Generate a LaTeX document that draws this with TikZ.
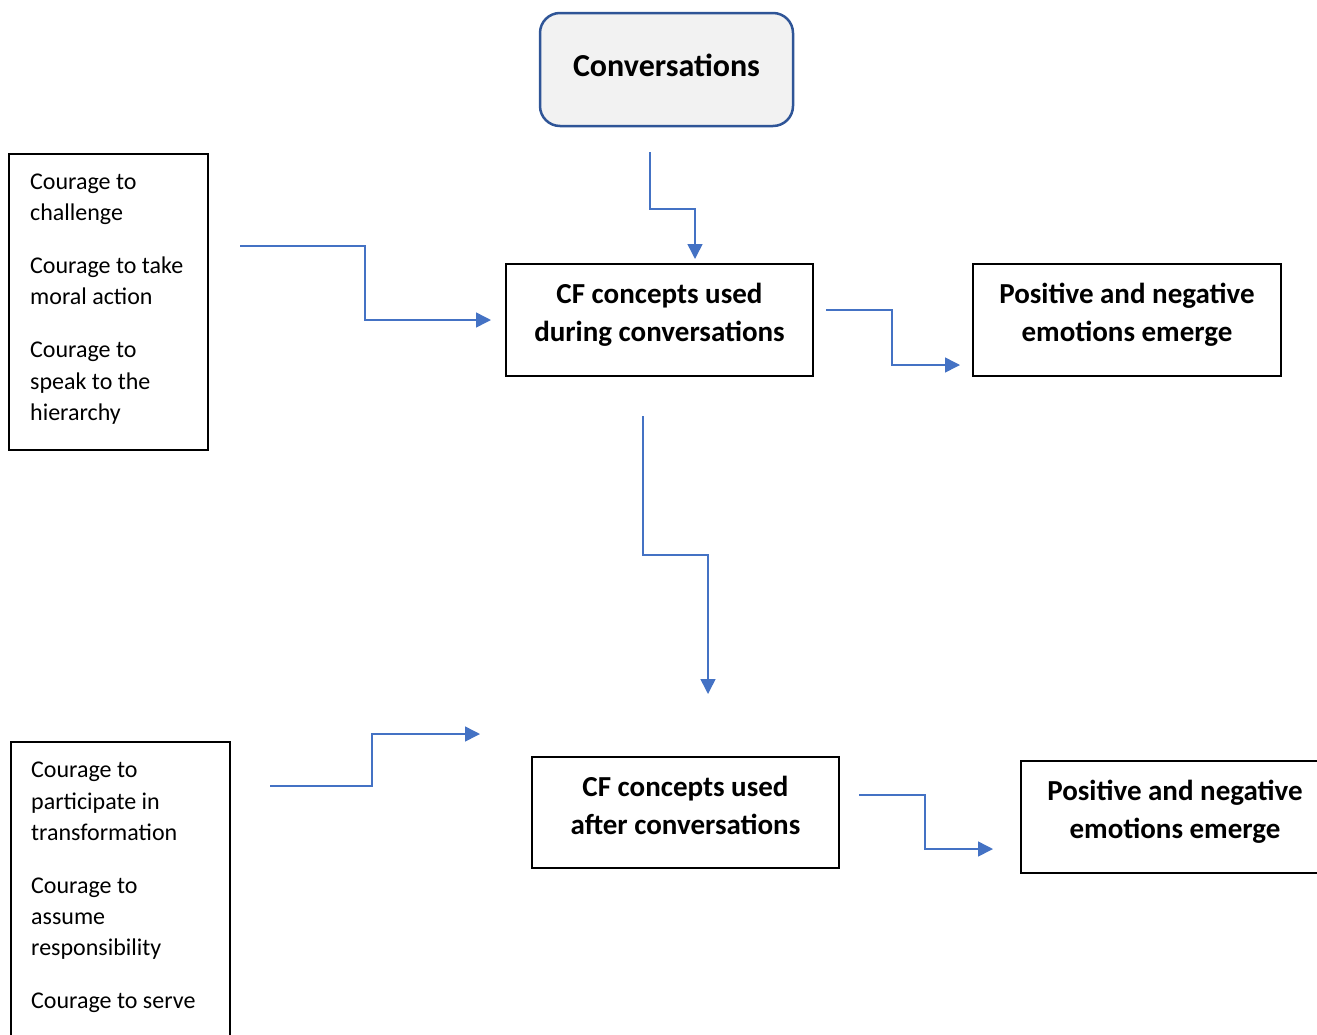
\documentclass[tikz,border=0pt]{standalone}
\usepackage{fontspec}
\setmainfont{Carlito}
\usetikzlibrary{arrows.meta}
\definecolor{arrowblue}{HTML}{4472C4}
\definecolor{convborder}{HTML}{2F5597}
\definecolor{convfill}{HTML}{F2F2F2}
\tikzset{
  conn/.style={draw=arrowblue, line width=1.5pt, -{Triangle[length=15pt,width=15pt]}},
  plainbox/.style={draw=black, line width=2pt, inner sep=0pt, rectangle},
  bodytxt/.style={anchor=base west, inner sep=0pt, font=\fontsize{24}{30}\selectfont},
  boldtxt/.style={anchor=base, inner sep=0pt, font=\fontsize{29}{36}\selectfont\bfseries},
}
\begin{document}
\begin{tikzpicture}[x=1pt,y=-1pt]
\useasboundingbox (0,0) rectangle (1317,1034);
\clip (0,0) rectangle (1317,1034);

% Conversations
\node[draw=convborder, fill=convfill, line width=2.5pt, rounded corners=20pt,
      minimum width=253pt, minimum height=113pt, inner sep=0pt] (conv) at (666.5,69.5) {};
\node[boldtxt, font=\fontsize{32}{36}\selectfont\bfseries] (convt) at (666.5,76) {Conversations};

% top-left list box
\node[plainbox, minimum width=199pt, minimum height=296pt] (lbox1) at (108.5,302) {};
\node[bodytxt] (l1a) at (30,189) {Courage to};
\node[bodytxt] (l1b) at (30,220) {challenge};
\node[bodytxt] (l1c) at (30,273) {Courage to take};
\node[bodytxt] (l1d) at (30,304) {moral action};
\node[bodytxt] (l1e) at (30,357) {Courage to};
\node[bodytxt] (l1f) at (30,389) {speak to the};
\node[bodytxt] (l1g) at (30,420) {hierarchy};

% CF during
\node[plainbox, minimum width=307pt, minimum height=112pt] (cfd) at (659.5,320) {};
\node[boldtxt] (cfd1) at (659.5,303) {CF concepts used};
\node[boldtxt] (cfd2) at (659.5,341) {during conversations};

% emotions top
\node[plainbox, minimum width=308pt, minimum height=112pt] (emo1) at (1127,320) {};
\node[boldtxt] (emo1a) at (1127,303) {Positive and negative};
\node[boldtxt] (emo1b) at (1127,341) {emotions emerge};

% bottom-left list box
\node[plainbox, minimum width=219pt, minimum height=320pt] (lbox2) at (120.5,902) {};
\node[bodytxt] (l2a) at (31,777) {Courage to};
\node[bodytxt] (l2b) at (31,809) {participate in};
\node[bodytxt] (l2c) at (31,840) {transformation};
\node[bodytxt] (l2d) at (31,893) {Courage to};
\node[bodytxt] (l2e) at (31,924) {assume};
\node[bodytxt] (l2f) at (31,955) {responsibility};
\node[bodytxt] (l2g) at (31,1008) {Courage to serve};

% CF after
\node[plainbox, minimum width=307pt, minimum height=111pt] (cfa) at (685.5,812.5) {};
\node[boldtxt] (cfa1) at (685.5,796) {CF concepts used};
\node[boldtxt] (cfa2) at (685.5,834) {after conversations};

% emotions bottom
\node[plainbox, minimum width=310pt, minimum height=112pt] (emo2) at (1176,817) {};
\node[boldtxt] (emo2a) at (1175,800) {Positive and negative};
\node[boldtxt] (emo2b) at (1175,838) {emotions emerge};

% free connector ends
\coordinate (c1s) at (650,152);  \coordinate (c1e) at (695,259);
\coordinate (c2s) at (240,246);  \coordinate (c2e) at (491,320);
\coordinate (c3s) at (826,310);  \coordinate (c3e) at (960,365);
\coordinate (c4s) at (643,416);  \coordinate (c4e) at (708,694);
\coordinate (c5s) at (270,786);  \coordinate (c5e) at (480,734);
\coordinate (c6s) at (859,795);  \coordinate (c6e) at (993,849);

\draw[conn] (c1s) -- (650,209) -- (695,209) -- (c1e);
\draw[conn] (c2s) -- (365,246) -- (365,320) -- (c2e);
\draw[conn] (c3s) -- (892,310) -- (892,365) -- (c3e);
\draw[conn] (c4s) -- (643,555) -- (708,555) -- (c4e);
\draw[conn] (c5s) -- (372,786) -- (372,734) -- (c5e);
\draw[conn] (c6s) -- (925,795) -- (925,849) -- (c6e);
\end{tikzpicture}
\end{document}
